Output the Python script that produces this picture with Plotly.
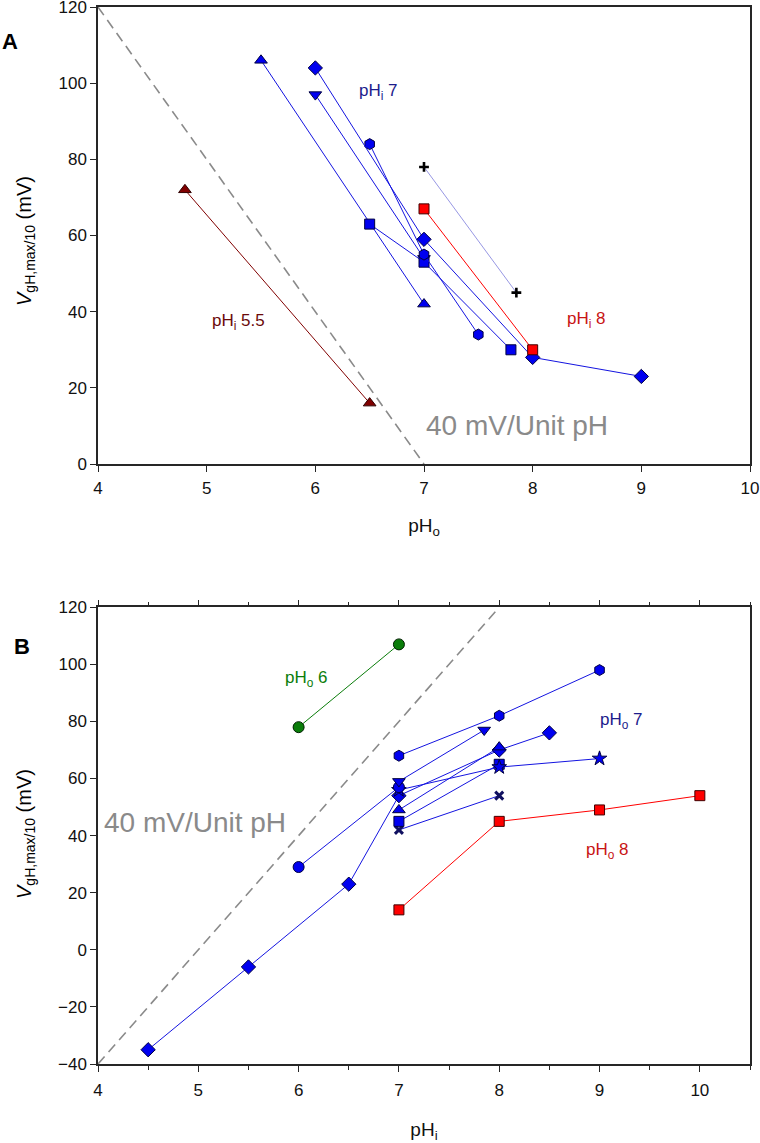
import plotly.graph_objects as go

# ---------------- Panel A data (x = pHo, y = V) ----------------
A_tri_x = [5.5, 7]
A_tri_y = [106, 42]
A_diam_x = [6, 7, 8, 9]
A_diam_y = [104, 59, 28, 23]
A_dtri_x = [6, 7]
A_dtri_y = [97, 54]
A_hex_x = [6.5, 7, 7.5]
A_hex_y = [84, 55, 34]
A_sq_x = [6.5, 7, 7.8]
A_sq_y = [63, 53, 30]
A_plus_x = [7, 7.85]
A_plus_y = [78, 45]
A_red_x = [7, 8]
A_red_y = [67, 30]
A_dred_x = [4.8, 6.5]
A_dred_y = [72, 16]
A_ref_x = [4, 7]
A_ref_y = [120, 0]

# ---------------- Panel B data (x = pHi, y = V) ----------------
B_green_x = [6, 7]
B_green_y = [78, 107]
B_hex_x = [7, 8, 9]
B_hex_y = [68, 82, 98]
B_dtri_x = [7, 7.85]
B_dtri_y = [59, 77]
B_circ_x = [6, 7]
B_circ_y = [29, 57]
B_star_x = [7, 8, 9]
B_star_y = [56, 64, 67]
B_diam_x = [4.5, 5.5, 6.5, 7, 8, 8.5]
B_diam_y = [-35, -6, 23, 54, 70, 76]
B_tri_x = [7, 8]
B_tri_y = [49, 71]
B_sq_x = [7, 8]
B_sq_y = [45, 65]
B_x_x = [7, 8]
B_x_y = [42, 54]
B_red_x = [7, 8, 9, 10]
B_red_y = [14, 45, 49, 54]
B_ref_x = [4, 8]
B_ref_y = [-40, 120]

x_ticks_A = [4, 5, 6, 7, 8, 9, 10]
y_ticks_A = [0, 20, 40, 60, 80, 100, 120]
x_ticks_B = [4, 5, 6, 7, 8, 9, 10]
y_ticks_B = [-40, -20, 0, 20, 40, 60, 80, 100, 120]

BLUE = "#0000f0"
LBLUE = "#1414e0"
EDGE = "#000040"
RED = "#ff0000"
DRED = "#800000"
GREEN = "#0a7d0a"
GRAY = "#8a8a8a"

fig = go.Figure()


def series(x, y, symbol, size, fill, line_color, xa, ya, lw=1.0, edge=EDGE, ew=1.0):
    fig.add_trace(go.Scatter(
        x=x, y=y, mode="lines+markers", xaxis=xa, yaxis=ya,
        line=dict(color=line_color, width=lw),
        marker=dict(symbol=symbol, size=size, color=fill,
                    line=dict(color=edge, width=ew)),
        showlegend=False, hoverinfo="skip"))


def ref(x, y, xa, ya):
    fig.add_trace(go.Scatter(
        x=x, y=y, mode="lines", xaxis=xa, yaxis=ya,
        line=dict(color=GRAY, width=1.6, dash="10px,6px"),
        showlegend=False, hoverinfo="skip"))


# Panel A
ref(A_ref_x, A_ref_y, "x", "y")
series(A_dred_x, A_dred_y, "triangle-up", 11, DRED, DRED, "x", "y", edge="#300000")
series(A_tri_x, A_tri_y, "triangle-up", 11, BLUE, LBLUE, "x", "y")
series(A_dtri_x, A_dtri_y, "triangle-down", 11, BLUE, LBLUE, "x", "y")
series(A_sq_x, A_sq_y, "square", 10, BLUE, LBLUE, "x", "y")
series(A_hex_x, A_hex_y, "hexagon", 11, BLUE, LBLUE, "x", "y")
series(A_diam_x, A_diam_y, "diamond", 11, BLUE, LBLUE, "x", "y")
series(A_red_x, A_red_y, "square", 10, RED, RED, "x", "y", edge="#400000")
series(A_plus_x, A_plus_y, "cross-thin", 7, "black", "#5050d0", "x", "y",
       lw=0.6, edge="black", ew=2.6)

# Panel B
ref(B_ref_x, B_ref_y, "x2", "y2")
series(B_green_x, B_green_y, "circle", 11, GREEN, GREEN, "x2", "y2", edge="#002000")
series(B_red_x, B_red_y, "square", 10, RED, RED, "x2", "y2", edge="#400000")
series(B_x_x, B_x_y, "x-thin", 8, "#101060", LBLUE, "x2", "y2", edge="#101060", ew=3)
series(B_sq_x, B_sq_y, "square", 10, BLUE, LBLUE, "x2", "y2")
series(B_diam_x, B_diam_y, "diamond", 11, BLUE, LBLUE, "x2", "y2")
series(B_tri_x, B_tri_y, "triangle-up", 11, BLUE, LBLUE, "x2", "y2")
series(B_star_x, B_star_y, "star", 11, BLUE, LBLUE, "x2", "y2")
series(B_circ_x, B_circ_y, "circle", 11, BLUE, LBLUE, "x2", "y2")
series(B_dtri_x, B_dtri_y, "triangle-down", 11, BLUE, LBLUE, "x2", "y2")
series(B_hex_x, B_hex_y, "hexagon", 11, BLUE, LBLUE, "x2", "y2")

AX = "#262626"
FONT = "Liberation Sans, Arial, sans-serif"
tickfont = dict(family=FONT, size=17, color="#111")
titlefont = dict(family=FONT, size=19, color="#111")

common = dict(showgrid=False, zeroline=False, showline=True, linecolor=AX,
              linewidth=1.5, ticks="outside", ticklen=6, tickwidth=1.3,
              tickcolor=AX, tickfont=tickfont, automargin=False,
              ticklabeloverflow="allow")

fig.update_layout(
    width=760, height=1143,
    margin=dict(l=98, r=10, t=7, b=79),
    paper_bgcolor="white", plot_bgcolor="white",
    font=dict(family=FONT),
    xaxis=dict(domain=[0, 1], anchor="y", range=[4, 10], tickvals=x_ticks_A,
               mirror=True, ticklabelstandoff=2,
               title=dict(text="pH<sub>o</sub>", font=titlefont, standoff=22),
               **common),
    yaxis=dict(domain=[0.5676, 1.0], anchor="x", range=[0, 120], tickvals=y_ticks_A,
               mirror=True, **common),
    xaxis2=dict(domain=[0, 1], anchor="y2", range=[4, 10.5], tickvals=x_ticks_B,
                mirror="ticks", ticklabelstandoff=4,
                minor=dict(dtick=0.5, tick0=4, ticks="outside", ticklen=4,
                           tickwidth=1.2, tickcolor=AX),
                title=dict(text="pH<sub>i</sub>", font=titlefont, standoff=24),
                **common),
    yaxis2=dict(domain=[0, 0.4321], anchor="x2", range=[-40, 120], tickvals=y_ticks_B,
                mirror=True, **common),
)

ann = []


def label(text, x, y, xref, yref, color, size=17, xanchor="left"):
    ann.append(dict(text=text, x=x, y=y, xref=xref, yref=yref, showarrow=False,
                    xanchor=xanchor, yanchor="middle",
                    font=dict(family=FONT, size=size, color=color)))


NAVY = "#1c1c8c"
TRED = "#c81414"
# Panel A
label("pH<sub>i</sub> 7", 6.385, 97.8, "x", "y", NAVY)
label("pH<sub>i</sub> 8", 8.30, 37.7, "x", "y", TRED)
label("pH<sub>i</sub> 5.5", 5.03, 37.2, "x", "y", "#6b0a0a")
label("40 mV/Unit pH", 7.0, 10.2, "x", "y", "#8a8a8a", size=28)
# Panel B
label("pH<sub>o</sub> 6", 5.84, 94.9, "x2", "y2", GREEN)
label("pH<sub>o</sub> 7", 8.98, 80.3, "x2", "y2", NAVY)
label("pH<sub>o</sub> 8", 8.85, 34.5, "x2", "y2", TRED)
label("40 mV/Unit pH", 4.04, 44.7, "x2", "y2", "#8a8a8a", size=28)

# Panel letters and y titles (positioned in pixels, converted to paper coordinates)
W, H = 760, 1143
ML, MR, MT, MB = 98, 10, 7, 79
pw, ph = W - ML - MR, H - MT - MB


def px_ann(text, px, py, size, angle=0):
    ann.append(dict(text=text, x=(px - ML) / pw, y=(H - MB - py) / ph,
                    xref="paper", yref="paper", showarrow=False, textangle=angle,
                    xanchor="center", yanchor="middle",
                    font=dict(family=FONT, size=size, color="black")))


px_ann("<b>A</b>", 10, 42, 22)
px_ann("<b>B</b>", 22, 646, 22)
ytitle = "<i>V</i><sub>gH,max/10</sub> (mV)"
px_ann(ytitle, 25, 241, 20, -90)
px_ann(ytitle, 25, 834, 20, -90)

fig.update_layout(annotations=ann)

fig.write_html("out.html", config={"displayModeBar": False},
               post_script="document.body.style.margin='0';")
